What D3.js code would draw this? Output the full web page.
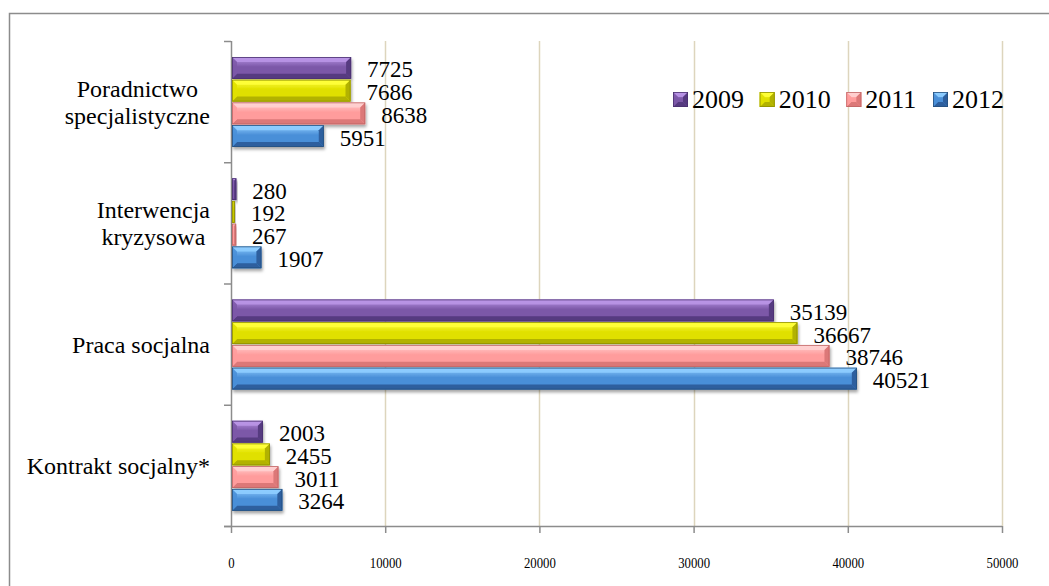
<!DOCTYPE html>
<html>
<head>
<meta charset="utf-8">
<script src="https://cdn.jsdelivr.net/npm/d3@7"></script>
<style>
  html, body { margin: 0; padding: 0; background: #fff; }
  svg { display: block; }
</style>
</head>
<body>
<script>
// ---- data ----
const categories = ["Poradnictwo specjalistyczne", "Interwencja kryzysowa", "Praca socjalna", "Kontrakt socjalny*"];
const categoryLines = [["Poradnictwo", "specjalistyczne"], ["Interwencja", "kryzysowa"], ["Praca socjalna"], ["Kontrakt socjalny*"]];
const years = ["2009", "2010", "2011", "2012"];
const values2009 = [7725, 280, 35139, 2003];
const values2010 = [7686, 192, 36667, 2455];
const values2011 = [8638, 267, 38746, 3011];
const values2012 = [5951, 1907, 40521, 3264];
const tickValues = [0, 10000, 20000, 30000, 40000, 50000];

const series = [
  { year: years[0], values: values2009 },
  { year: years[1], values: values2010 },
  { year: years[2], values: values2011 },
  { year: years[3], values: values2012 }
];

const palette = {
  "2009": { light: "#b995e6", mid: "#7c58a8", dark: "#563a80", edge: "#4a3170" },
  "2010": { light: "#ffff3a", mid: "#e0e000", dark: "#b2b200", edge: "#8f8f00" },
  "2011": { light: "#ffd0d0", mid: "#ff9c9c", dark: "#dc7878", edge: "#c06565" },
  "2012": { light: "#8ecdff", mid: "#4a8fd8", dark: "#2d5f9e", edge: "#26507f" }
};

const FONT = "'Liberation Serif', 'Times New Roman', Tinos, 'DejaVu Serif', serif";

const W = 1049, H = 586;
const svg = d3.select("body").append("svg").attr("width", W).attr("height", H)
  .attr("font-family", FONT);

const defs = svg.append("defs");
const flt = defs.append("filter").attr("id", "shadow").attr("x", "-10%").attr("y", "-30%").attr("width", "130%").attr("height", "180%");
flt.append("feDropShadow").attr("dx", 1).attr("dy", 2.5).attr("stdDeviation", 1.6).attr("flood-color", "#000").attr("flood-opacity", 0.35);

years.forEach(y => {
  const p = palette[y];
  const g = defs.append("linearGradient").attr("id", "g" + y).attr("x1", 0).attr("y1", 0).attr("x2", 0).attr("y2", 1);
  g.append("stop").attr("offset", "0%").attr("stop-color", p.light);
  g.append("stop").attr("offset", "45%").attr("stop-color", p.mid);
  g.append("stop").attr("offset", "100%").attr("stop-color", p.mid);
});

// outer border
svg.append("rect").attr("x", 9.5).attr("y", 13.5).attr("width", 1100).attr("height", 700)
  .attr("fill", "none").attr("stroke", "#8c8c8c").attr("stroke-width", 1.5);

const plotLeft = 231, plotRight = 1002, plotTop = 41, plotBottom = 526;

const x = d3.scaleLinear().domain([0, 50000]).range([plotLeft, plotRight]);
const y0 = d3.scaleBand().domain(categories).range([plotTop, plotBottom]).padding(0);
const y1 = d3.scaleBand().domain(years).range([16, 106]).paddingInner(0.04);

// gridlines
svg.append("g").selectAll("line").data(tickValues.filter(d => d > 0)).join("line")
  .attr("x1", d => Math.round(x(d)) + 0.5).attr("x2", d => Math.round(x(d)) + 0.5)
  .attr("y1", plotTop).attr("y2", plotBottom)
  .attr("stroke", "#ddd5bd").attr("stroke-width", 1.5);

// x axis
const xAxis = d3.axisBottom(x).tickValues(tickValues).tickSize(7).tickPadding(24).tickFormat(d3.format("d"));
const gx = svg.append("g").attr("transform", `translate(0,${plotBottom})`).call(xAxis);
gx.attr("font-family", FONT);
gx.select(".domain").attr("d", `M${plotLeft - 7},0.5H${plotRight}`).attr("stroke", "#8c8c8c").attr("stroke-width", 1.5);
gx.selectAll(".tick line").attr("stroke", "#8c8c8c").attr("stroke-width", 1.5);
gx.selectAll(".tick text").attr("font-family", FONT).attr("font-size", 15).attr("fill", "#000")
  .attr("transform", "scale(0.85,1)").attr("x", function(d) { return 0; });
gx.selectAll(".tick").each(function(d) {
  const t = d3.select(this).select("text");
  // horizontal condense keeps anchor at tick since transform is applied in tick local coords
});

// y axis (category boundaries)
const boundaries = categories.map(c => y0(c)).concat([plotBottom]);
svg.append("line").attr("x1", plotLeft + 0.5).attr("x2", plotLeft + 0.5).attr("y1", plotTop).attr("y2", plotBottom)
  .attr("stroke", "#8c8c8c").attr("stroke-width", 1.5);
svg.append("g").selectAll("line").data(boundaries).join("line")
  .attr("x1", plotLeft - 7).attr("x2", plotLeft).attr("y1", d => d + 0.5).attr("y2", d => d + 0.5)
  .attr("stroke", "#8c8c8c").attr("stroke-width", 1.5);

// category labels
const labelRight = 210;
const catG = svg.append("g");
categories.forEach((c, i) => {
  const lines = categoryLines[i];
  const cy = y0(c) + y0.bandwidth() / 2;
  const lh = 27;
  const t = catG.append("text").attr("font-size", 24).attr("text-anchor", "middle").attr("fill", "#000");
  const spans = lines.map((ln, j) => t.append("tspan").text(ln)
    .attr("y", cy + (j - (lines.length - 1) / 2) * lh).attr("dy", "0.35em"));
  const maxW = d3.max(spans, s => s.node().getComputedTextLength());
  spans.forEach(s => s.attr("x", labelRight - maxW / 2));
});

// bars
function bevelBar(g, w, h, p, yr) {
  const b = Math.min(5, w / 2, h / 2);
  g.append("rect").attr("width", w).attr("height", h).attr("fill", `url(#g${yr})`);
  g.append("polygon").attr("points", `0,0 ${w},0 ${w - b},${b} ${b},${b}`).attr("fill", p.light).attr("opacity", 0.9);
  g.append("polygon").attr("points", `0,${h} ${w},${h} ${w - b},${h - b} ${b},${h - b}`).attr("fill", p.dark);
  g.append("polygon").attr("points", `0,0 ${b},${b} ${b},${h - b} 0,${h}`).attr("fill", p.mid).attr("opacity", 0.85);
  g.append("polygon").attr("points", `${w},0 ${w - b},${b} ${w - b},${h - b} ${w},${h}`).attr("fill", p.dark);
  g.append("rect").attr("x", 0.4).attr("y", 0.4).attr("width", Math.max(0, w - 0.8)).attr("height", h - 0.8)
    .attr("fill", "none").attr("stroke", p.edge).attr("stroke-width", 0.8);
}

const barsG = svg.append("g");
series.forEach(s => {
  s.values.forEach((v, i) => {
    const c = categories[i];
    const by = y0(c) + y1(s.year);
    const bh = y1.bandwidth();
    const bw = x(v) - x(0);
    const g = barsG.append("g").attr("transform", `translate(${x(0) + 1},${by})`).attr("filter", "url(#shadow)");
    bevelBar(g, bw, bh, palette[s.year], s.year);
  });
});

// value labels
const valG = svg.append("g");
series.forEach(s => {
  s.values.forEach((v, i) => {
    const c = categories[i];
    valG.append("text")
      .attr("x", x(v) + 17)
      .attr("y", y0(c) + y1(s.year) + y1.bandwidth() / 2 + 1.5)
      .attr("dy", "0.35em")
      .attr("font-size", 23)
      .attr("fill", "#000")
      .text(v);
  });
});

// legend
const legendX = d3.scalePoint().domain(years).range([673, 933]);
const lg = svg.append("g");
years.forEach(yr => {
  const gx0 = legendX(yr);
  const g = lg.append("g").attr("transform", `translate(${gx0},92)`);
  bevelBar(g, 15, 15, palette[yr], yr);
  lg.append("text").attr("x", gx0 + 19).attr("y", 99).attr("dy", "0.35em").attr("font-size", 26).attr("fill", "#000").text(yr);
});
</script>
</body>
</html>
